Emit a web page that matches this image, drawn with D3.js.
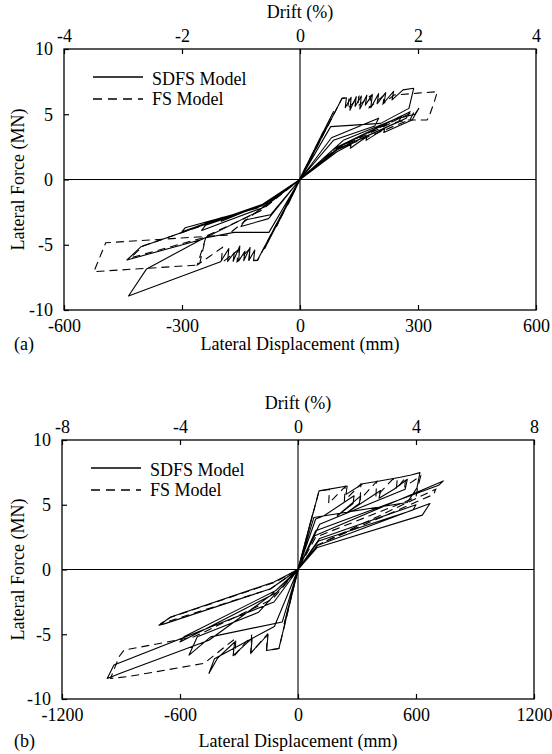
<!DOCTYPE html>
<html>
<head>
<meta charset="utf-8">
<script src="https://cdn.jsdelivr.net/npm/d3@7"></script>
<style>
body { margin: 0; background: #fff; }
svg text { font-family: "Liberation Serif", "Times New Roman", serif; font-size: 18px; fill: #000; }
</style>
</head>
<body>
<script>
// [displacement (mm), lateral force (MN)]
var sdfsA = [
  [0,0],[30,1.9],[-30,-1.9],[0,0],[60,3.7],[-60,-3.6],[0,0],[85,5.2],[-90,-5.3],[0,0],
  [107,6.22],[118,6.26],[115,5.5],[130,6.3],[127,5.3],[143,6.35],[140,5.6],[156,6.4],[152,5.4],
  [170,6.46],[166,5.7],[184,6.52],[180,5.5],[200,6.58],[196,5.8],[218,6.66],[214,5.9],[238,6.76],
  [234,6.1],[262,6.87],[289,6.99],[277,5.45],[205,4.3],[78,4.05],[0,0],
  [-108,-6.17],[-118,-6.19],[-115,-5.4],[-130,-6.21],[-127,-5.2],[-143,-6.23],[-140,-5.5],
  [-156,-6.25],[-153,-5.1],[-170,-6.27],[-167,-5.6],[-184,-6.28],[-181,-5.3],[-202,-6.3],
  [-436,-8.93],[-390,-6.85],[-245,-4.5],[-168,-4.05],[-79,-4.05],[0,0],
  [94,2.13],[130,2.7],[128,2.4],[170,3.3],[168,3.0],[215,3.9],[213,3.6],[285,4.56],[302,5.45],
  [292,5.0],[240,4.6],[110,3.0],[0,0],
  [-95,-1.9],[-404,-5.15],[-440,-6.17],[-250,-4.6],[-110,-2.5],[0,0],
  [88,2.4],[260,4.9],[250,4.4],[95,2.3],[0,0],
  [-85,-1.8],[-200,-3.2],[-197,-2.9],[-300,-4.0],[-292,-3.7],[-110,-2.2],[0,0],
  [80,3.2],[200,4.7],[190,4.1],[85,3.0],[0,0],
  [100,2.5],[280,5.2],[270,4.7],[100,2.4],[0,0],
  [-80,-3.0],[-150,-3.6],[-140,-3.1],[-75,-2.7],[0,0],
  [-90,-2.1],[-250,-3.9],[-240,-3.5],[-95,-2.0],[0,0]
];
var fsA = [
  [0,0],[60,3.7],[-60,-3.6],[0,0],
  [107,6.22],[125,6.27],[121,5.4],[150,6.35],[146,5.6],[180,6.42],[176,5.5],[215,6.5],[211,5.8],
  [239,6.47],[300,6.62],[349,6.73],[342,6.0],[328,4.81],[323,4.56],[272,4.56],[230,4.3],[90,2.3],[0,0],
  [-108,-6.2],[-130,-6.25],[-127,-5.3],[-160,-6.3],[-157,-5.4],[-200,-6.4],[-197,-5.2],[-261,-6.55],
  [-240,-4.5],[-256,-6.55],[-524,-7.06],[-494,-4.85],[-185,-4.26],[-90,-2.0],[0,0],
  [90,2.4],[290,5.2],[280,4.6],[95,2.3],[0,0],
  [-90,-1.9],[-400,-5.1],[-430,-6.0],[-250,-4.5],[-100,-2.4],[0,0]
];
var sdfsB = [
  [0,0],[40,2.2],[-40,-2.1],[0,0],[75,4.3],[-70,-4.2],[0,0],
  [107,6.07],[250,6.45],[244,5.8],[330,6.62],[400,6.8],[520,7.12],[575,7.3],
  [620,7.48],[605,6.3],[556,5.18],[81,4.02],[0,0],
  [90,3.9],[132,4.15],[285,5.69],[280,5.1],[200,4.15],[319,5.69],[312,5.1],[250,4.4],
  [420,6.1],[412,5.5],[488,6.2],[556,6.97],[545,6.2],[110,3.5],[0,0],
  [-97,-6.1],[-160,-6.25],[-152,-5.0],[-240,-6.45],[-233,-5.3],[-330,-6.65],[-322,-5.6],
  [-410,-6.87],[-453,-8.02],[-425,-6.9],[-120,-4.4],[0,0],
  [-80,-4.05],[-444,-5.2],[-554,-6.61],[-512,-5.2],[-200,-3.3],[0,0],
  [98,1.85],[671,5.1],[632,4.2],[98,1.7],[0,0],
  [85,2.6],[739,6.84],[715,6.5],[90,3.0],[0,0],
  [-122,-2.51],[-936,-7.38],[-970,-8.41],[-900,-8.0],[-453,-5.46],[-139,-2.0],[0,0],
  [-122,-0.97],[-647,-3.67],[-707,-4.31],[-680,-4.2],[-139,-1.49],[0,0],
  [110,2.4],[600,5.0],[585,4.6],[105,2.2],[0,0],
  [-110,-1.8],[-600,-5.6],[-580,-5.2],[-110,-1.6],[0,0]
];
var fsB = [
  [0,0],[75,4.3],[-70,-4.2],[0,0],
  [107,6.07],[160,6.18],[156,5.1],[240,6.4],[236,5.3],[320,6.6],[316,5.4],[400,6.8],[396,5.6],
  [480,6.95],[505,7.0],[500,6.2],[547,7.1],[543,6.4],[624,7.23],[607,6.2],[600,5.6],[540,5.2],[90,2.5],[0,0],
  [-97,-6.1],[-160,-6.25],[-156,-5.0],[-240,-6.45],[-236,-5.1],[-320,-6.6],[-316,-5.3],
  [-478,-7.25],[-868,-8.28],[-953,-8.41],[-910,-6.74],[-885,-6.23],[-529,-5.2],[-130,-2.3],[0,0],
  [100,1.9],[700,6.2],[690,5.8],[100,1.9],[0,0],
  [-120,-1.0],[-650,-3.7],[-700,-4.2],[-140,-1.5],[0,0]
];

var dispTicksA = [-600, -300, 0, 300, 600];
var dispTicksB = [-1200, -600, 0, 600, 1200];
var driftTicksA = [-4, -2, 0, 2, 4];
var driftTicksB = [-8, -4, 0, 4, 8];
var forceTicks = [-10, -5, 0, 5, 10];
var legendNames = ["SDFS Model", "FS Model"];

var svg = d3.select("body").append("svg")
    .attr("width", 552)
    .attr("height", 754);

// plain hyphen, no thousands separator
var fmt = function (d) { return String(d); };

function drawPanel(p) {
  var x = d3.scaleLinear().domain([p.dispTicks[0], p.dispTicks[4]]).range([p.left, p.right]);
  var drift = d3.scaleLinear().domain([p.driftTicks[0], p.driftTicks[4]]).range([p.left, p.right]);
  var y = d3.scaleLinear().domain([-10, 10]).range([p.bottom, p.top]);
  var g = svg.append("g");

  // zero lines
  g.append("line").attr("x1", p.left).attr("x2", p.right).attr("y1", y(0)).attr("y2", y(0))
    .attr("stroke", "#000").attr("stroke-width", 1.1);
  g.append("line").attr("x1", x(0)).attr("x2", x(0)).attr("y1", p.top).attr("y2", p.bottom)
    .attr("stroke", "#000").attr("stroke-width", 1.1);

  // curves
  var line = d3.line().x(function (d) { return x(d[0]); }).y(function (d) { return y(d[1]); });
  g.append("path").datum(p.fs).attr("d", line).attr("fill", "none")
    .attr("stroke", "#000").attr("stroke-width", 1.1).attr("stroke-dasharray", "8,5");
  g.append("path").datum(p.sdfs).attr("d", line).attr("fill", "none")
    .attr("stroke", "#000").attr("stroke-width", 1.1).attr("stroke-linejoin", "round");

  // axes, ticks inside
  var bottomAxis = g.append("g").attr("transform", "translate(0," + p.bottom + ")")
    .call(d3.axisBottom(x).tickValues(p.dispTicks).tickFormat(fmt).tickSizeInner(-5).tickSizeOuter(0).tickPadding(9));
  var topAxis = g.append("g").attr("transform", "translate(0," + p.top + ")")
    .call(d3.axisTop(drift).tickValues(p.driftTicks).tickFormat(fmt).tickSizeInner(-5).tickSizeOuter(0).tickPadding(7));
  var leftAxis = g.append("g").attr("transform", "translate(" + p.left + ",0)")
    .call(d3.axisLeft(y).tickValues(forceTicks).tickFormat(fmt).tickSizeInner(-5).tickSizeOuter(0).tickPadding(11));
  [bottomAxis, topAxis, leftAxis].forEach(function (a) {
    a.attr("font-family", null).attr("font-size", null);
    a.select(".domain").remove();
    a.selectAll("line").attr("stroke", "#000").attr("stroke-width", 1.2);
  });

  g.append("rect").attr("x", p.left).attr("y", p.top)
    .attr("width", p.right - p.left).attr("height", p.bottom - p.top)
    .attr("fill", "none").attr("stroke", "#000").attr("stroke-width", 1.3);

  // titles
  g.append("text").attr("x", (p.left + p.right) / 2).attr("y", p.top - 31)
    .attr("text-anchor", "middle").text("Drift (%)");
  g.append("text").attr("x", (p.left + p.right) / 2).attr("y", p.titleY)
    .attr("text-anchor", "middle").text("Lateral Displacement (mm)");
  g.append("text").attr("x", 14).attr("y", p.titleY).text(p.tag);
  g.append("text").attr("transform", "translate(24," + y(0) + ") rotate(-90)")
    .attr("text-anchor", "middle").text("Lateral Force (MN)");

  // legend
  legendNames.forEach(function (name, i) {
    var ly = p.top + 28 + i * 22;
    g.append("line").attr("x1", p.left + 29).attr("x2", p.left + 79).attr("y1", ly).attr("y2", ly)
      .attr("stroke", "#000").attr("stroke-width", 1.3)
      .attr("stroke-dasharray", i === 1 ? "9,6" : null);
    g.append("text").attr("x", p.left + 88).attr("y", p.top + 36 + i * 20).text(name);
  });
}

drawPanel({ left: 64, right: 536, top: 49, bottom: 310, titleY: 350, tag: "(a)",
  dispTicks: dispTicksA, driftTicks: driftTicksA, sdfs: sdfsA, fs: fsA });
drawPanel({ left: 62, right: 534, top: 440, bottom: 699, titleY: 747, tag: "(b)",
  dispTicks: dispTicksB, driftTicks: driftTicksB, sdfs: sdfsB, fs: fsB });
</script>
</body>
</html>
